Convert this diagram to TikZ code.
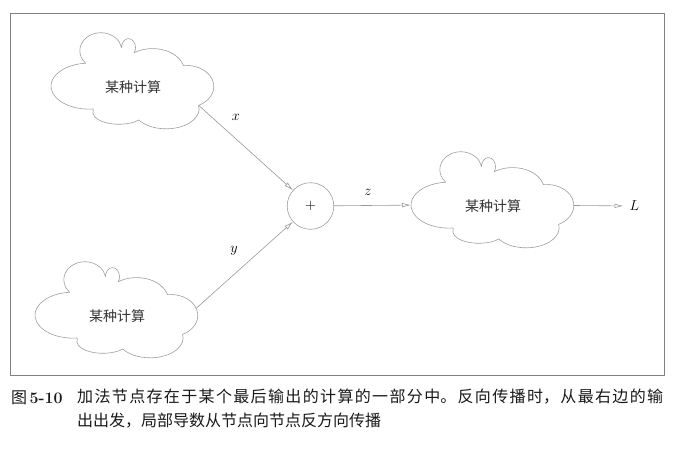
\documentclass[tikz,border=0pt]{standalone}
\usepackage{fontspec}
\newfontfamily\cjk{Noto Sans CJK SC}
\usetikzlibrary{arrows.meta}
\XeTeXlinebreaklocale "zh"
\XeTeXlinebreakskip=0pt plus 2pt

\tikzset{
	cloudline/.style={draw=black!38,line width=0.6pt},
	cloudtext/.style={font=\cjk\fontsize{14}{16}\selectfont,text=black!80},
	jisuan/.pic={
		\draw[cloudline] (-40,-22) arc[start angle=276,end angle=95,x radius=38,y radius=23]
			arc[start angle=224,end angle=10,x radius=21,y radius=18]
			arc[start angle=180,end angle=-35,x radius=7,y radius=9]
			arc[start angle=125,end angle=15,x radius=32,y radius=23]
			arc[start angle=97,end angle=-64,x radius=27,y radius=21]
			arc[start angle=10,end angle=-146,x radius=33,y radius=20]
			arc[start angle=-40,end angle=-190,x radius=26,y radius=12] -- cycle;
		\node[cloudtext] (-t) at (0,0) {某种计算};
		\coordinate (-l) at (-82,0.9);
		\coordinate (-r) at (80.8,0.5);
		\coordinate (-e) at (65.6,-18.3);
		\coordinate (-ne) at (79.2,7.7);
	}
}

\begin{document}
\begin{tikzpicture}[x=1pt,y=1pt,>={Latex[open,length=9pt,width=4.5pt]},line join=round,line cap=round,
		edge/.style={->,draw=black!40,line width=0.6pt},
		lab/.style={font=\fontsize{15}{18}\selectfont}]
	\useasboundingbox (0,0) rectangle (684,453);
	\draw[draw=black!50,line width=0.9pt] (10,78) rectangle (664,440);
	% clouds and the + node
	\pic (c1) at (133,366) {jisuan};
	\pic (c3) at (117,137) {jisuan};
	\pic (c2) at (493,247) {jisuan};
	\node[circle,draw=black!38,line width=0.6pt,minimum size=46.6pt,inner sep=0,font=\fontsize{14}{16}\selectfont] (plus) at (310.5,247) {$+$};
	\node[lab,inner sep=6pt] (L) at (634.5,247) {$L$};
	% connectors
	\draw[edge] (c1-e) -- (plus);
	\draw[edge] (c3-ne) -- (plus);
	\draw[edge] (plus) -- (c2-l);
	\draw[edge] (c2-r) -- (L);
	\node[lab] (lx) at (236,336) {$x$};
	\node[lab] (ly) at (234,202) {$y$};
	\node[lab] (lz) at (368,261) {$z$};
	% caption
	\node[anchor=base west,inner sep=0,font=\fontsize{16}{24}\selectfont,text=black!90] (fig) at (11,50) {{\cjk 图}\kern2.5pt\textbf{5-10}};
	\node[anchor=north west,inner sep=0,text width=586pt,align=justify,font=\cjk\fontsize{16}{24}\selectfont,text=black!90] (cap) at (77,64)
		{加法节点存在于某个最后输出的计算的一部分中。反向传播时，从最右边的输\linebreak 出出发，局部导数从节点向节点反方向传播};
\end{tikzpicture}
\end{document}
